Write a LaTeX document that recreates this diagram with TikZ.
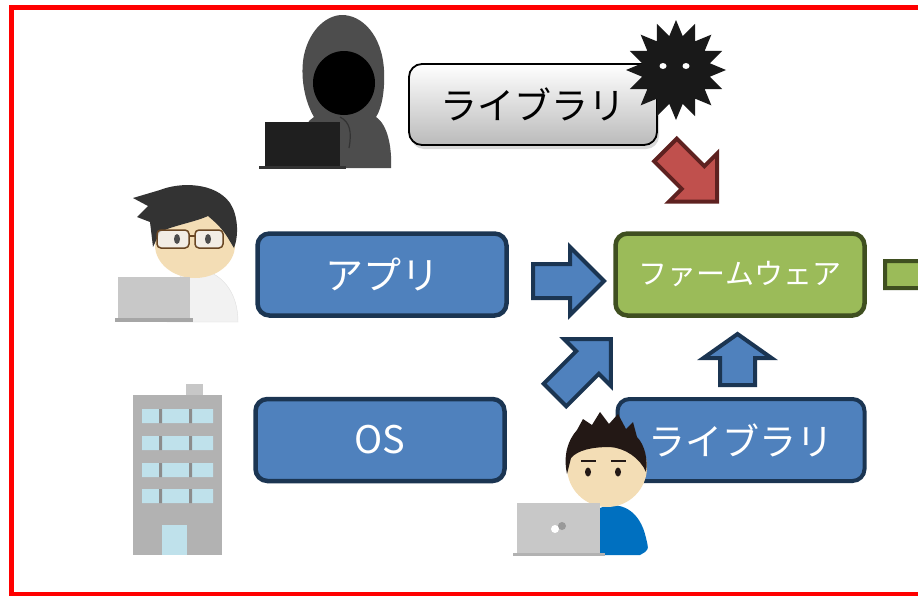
\documentclass[tikz,border=0pt]{standalone}
\usepackage{fontspec}
\usepackage{tikz}
\usetikzlibrary{shapes.geometric,shadows}
\newfontfamily\jp{Noto Sans CJK JP}

\definecolor{boxblue}{HTML}{4F81BD}
\definecolor{boxnavy}{HTML}{1B3552}
\definecolor{fwgreen}{HTML}{9BBB59}
\definecolor{fwdark}{HTML}{3F4F20}
\definecolor{badred}{HTML}{C0504D}
\definecolor{baddark}{HTML}{5E2120}
\definecolor{skin}{HTML}{F3DDB5}
\definecolor{hoodgray}{HTML}{4D4D4D}
\definecolor{pcgray}{HTML}{C8C8C8}
\definecolor{winblue}{HTML}{BFE1EB}
\definecolor{shirtblue}{HTML}{0070C0}
\definecolor{hairdark}{HTML}{231815}

% block arrow: style, start, angle, length, head length, half shaft, half head
\newcommand{\fatarrow}[7]{%
  \draw[#1,shift={#2},rotate=#3] (0,-#6) -- (#4-#5,-#6) -- (#4-#5,-#7) -- (#4,0)
    -- (#4-#5,#7) -- (#4-#5,#6) -- (0,#6) -- cycle;}

\begin{document}
\begin{tikzpicture}[x=1pt,y=-1pt,node distance=165.5pt,
    blue box/.style={rounded corners=12pt,draw=boxnavy,fill=boxblue,line width=4.5pt,
      minimum width=249pt,minimum height=82pt,text=white,font=\jp\fontsize{38}{40}\selectfont},
    blue arrow/.style={draw=boxnavy,fill=boxblue,line width=4pt},
    red arrow/.style={draw=baddark,fill=badred,line width=4pt},
    green arrow/.style={draw=fwdark,fill=fwgreen,line width=4pt}]
  \clip (0,0) rectangle (918,595);
  \fill[white] (0,0) rectangle (918,595);

  % the boxes
  \node[blue box] (app) at (382,274.5) {アプリ};
  \node[blue box,below of=app,xshift=-2pt] (os) {OS};
  \node[blue box,draw=fwdark,fill=fwgreen,font=\jp\fontsize{29}{32}\selectfont,
    right of=app,node distance=358pt] (fw) {ファームウェア};
  \node[blue box,line width=4pt,minimum width=247pt,font=\jp\fontsize{37}{40}\selectfont,
    below of=fw,xshift=1pt] (lib) {ライブラリ};
  \node[rounded corners=13pt,draw=black,line width=1.8pt,minimum width=248pt,minimum height=81pt,
    top color=white,bottom color=black!27,
    drop shadow={shadow xshift=2pt,shadow yshift=-4pt,opacity=0.3},
    font=\jp\fontsize{37}{40}\selectfont] (badlib) at (533,104.5) {ライブラリ};

  % arrows into the firmware
  \fatarrow{blue arrow}{(533,281)}{0}{71}{34}{17}{34}
  \fatarrow{blue arrow}{(555,395)}{45}{79}{33}{16}{33}
  \fatarrow{blue arrow}{(737.5,385)}{90}{51}{24}{17.5}{34}
  \fatarrow{red arrow}{(665.5,150)}{-45}{73}{34}{16}{34}
  \fatarrow{green arrow}{(885,274.5)}{0}{80}{38}{13.5}{30}

  % virus
  \node[star,star points=16,star point ratio=1.45,minimum size=100pt,inner sep=0pt,
    fill=black!90] (virus) at (676,70) {};
  \fill[white] (663,66) ellipse [x radius=3.5pt,y radius=3pt];
  \fill[white] (686,66) ellipse [x radius=3.5pt,y radius=3pt];

  % hooded attacker
  \fill[hoodgray] (296,168) .. controls (296,140) and (303,124) .. (314,117)
    .. controls (304,100) and (300,75) .. (304,55)
    .. controls (310,28) and (328,15) .. (342,15)
    .. controls (362,15) and (382,35) .. (384,70)
    .. controls (385,90) and (382,108) .. (376,117)
    .. controls (388,125) and (392,148) .. (391,168) -- cycle;
  \fill[black] (344,83) ellipse [x radius=31pt,y radius=32pt];
  \draw[black!80,line width=1.2pt] (340,117) .. controls (350,122) and (352,132) .. (349,148);
  \fill[black!88] (265,122) rectangle (340,167);
  \fill[black!80] (259,166) rectangle (346,169);

  % developer with glasses
  \fill[black!5,draw=black!12] (167,322) .. controls (167,290) and (178,272) .. (196,268)
    .. controls (222,272) and (238,292) .. (238,322) -- cycle;
  \fill[skin] (195,245) ellipse [x radius=40pt,y radius=33pt];
  \fill[black!80] (153,247) -- (150,222) -- (137,217) -- (148,206) -- (133,198) -- (160,190)
    .. controls (180,182) and (215,182) .. (230,203)
    .. controls (238,215) and (239,235) .. (234,248) -- (228,238)
    .. controls (222,228) and (215,222) .. (208,216)
    .. controls (195,222) and (175,225) .. (160,232) -- cycle;
  \draw[black!45!brown,line width=1.5pt,fill=black!5!white,fill opacity=0.8,rounded corners=4pt]
    (157,230) rectangle (189,248) (195,230) rectangle (223,248);
  \draw[black!45!brown,line width=1.5pt] (189,236) -- (195,236);
  \fill[black!70] (177,239) ellipse [x radius=3pt,y radius=5pt];
  \fill[black!70] (208,239) ellipse [x radius=3pt,y radius=5pt];
  \fill[pcgray] (118,277) rectangle (190,318);
  \fill[black!35] (115,318) rectangle (193,322);

  % office building
  \fill[black!30] (133,395) rectangle (222,555);
  \fill[black!22] (186,384) rectangle (203,395);
  \foreach \y in {409,436,463,489} {
    \fill[winblue] (142,\y) rectangle (159,\y+14) (162,\y) rectangle (189,\y+14)
      (192,\y) rectangle (213,\y+14);
    \fill[black!45] (159,\y) rectangle (162,\y+14) (189,\y) rectangle (192,\y+14);
  }
  \fill[winblue] (162,525) rectangle (187,555);

  % library developer
  \fill[shirtblue] (600,555) -- (600,508) .. controls (620,500) and (640,510) .. (646,538)
    .. controls (649,550) .. (640,555) -- cycle;
  \fill[skin] (607,467) circle (40pt);
  \fill[hairdark] (567,474) .. controls (563,455) and (568,440) .. (577,430) -- (583,419)
    -- (592,425) -- (600,412) -- (609,424) -- (618,414) -- (626,429) -- (633,422)
    -- (637,437) .. controls (645,445) and (648,460) .. (646,472)
    .. controls (640,458) and (625,448) .. (610,447)
    .. controls (592,447) and (578,450) .. (571,458) -- cycle;
  \fill[hairdark] (588,472) ellipse [x radius=3pt,y radius=4.5pt];
  \fill[hairdark] (618,472) ellipse [x radius=3pt,y radius=4.5pt];
  \draw[hairdark,line width=1.3pt] (581,461) -- (596,461) (611,461) -- (626,461);
  \fill[pcgray] (517,503) rectangle (600,553);
  \fill[black!30] (513,553) rectangle (605,556);
  \fill[black!40] (562,526) circle (4pt);
  \fill[white] (555,529) circle (4pt);

  % frame
  \draw[red,line width=5pt] (11.5,7) rectangle (920,594.5);
\end{tikzpicture}
\end{document}
